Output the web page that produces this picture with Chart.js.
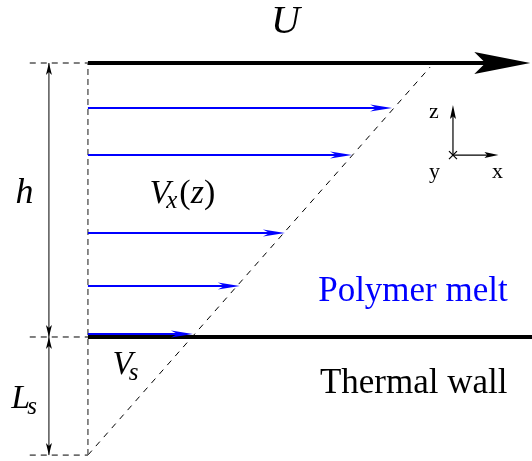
<meta charset="UTF-8">
<style>body{margin:0;background:#fff}</style>

<canvas id="myChart" width="532" height="461"></canvas>

<script src="https://cdn.jsdelivr.net/npm/chart.js@4/dist/chart.umd.min.js"></script>

<script>
    // channel geometry (units of h)
    var channelH = 1.0;
    var slipLength = 0.431;
    var wallTip = 1.293;          // tip of the moving wall arrow U
    var wallEnd = 1.30;           // end of the thermal wall line

    // velocity profile
    var profileZ  = [0.836, 0.664, 0.380, 0.186, 0.011];
    var profileVx = [0.889, 0.772, 0.576, 0.444, 0.307];

    // linear extrapolation of the profile down to -Ls
    var slipLineX = [0, 1.0];
    var slipLineZ = [-0.431, 0.985];

    // dimension markers on the left
    var dimX = -0.114;
    var guideStart = -0.17;

    // coordinate frame icon
    var frameOrigin = [1.067, 0.664];
    var frameZTip = 0.847;
    var frameXTip = 1.20;

    function pts(xs, ys) {
        return xs.map(function (x, i) { return {x: x, y: ys[i]}; });
    }

    var datasets = [];
    // blue velocity arrows (drawn on top)
    profileZ.forEach(function (z, i) {
        datasets.push({data: pts([0, profileVx[i] - 0.02], [z, z]), borderColor: '#0000ff', borderWidth: 2, order: 0});
    });
    // walls
    datasets.push({data: pts([0, wallTip - 0.1], [channelH, channelH]), borderColor: '#000', borderWidth: 4, order: 2});
    datasets.push({data: pts([0, wallEnd], [0, 0]), borderColor: '#000', borderWidth: 4, order: 2});
    // gray dashed reference line at x = 0
    datasets.push({data: pts([0, 0], [-slipLength, channelH]), borderColor: '#666', borderWidth: 1.5, borderDash: [6, 4], order: 3});
    // extrapolation line
    datasets.push({data: pts(slipLineX, slipLineZ), borderColor: '#000', borderWidth: 1, borderDash: [6, 6], order: 3});
    // horizontal guides
    [channelH, 0, -slipLength].forEach(function (z) {
        datasets.push({data: pts([guideStart, 0], [z, z]), borderColor: '#000', borderWidth: 1, borderDash: [6, 5], order: 3});
    });
    // dimension line
    datasets.push({data: pts([dimX, dimX], [-slipLength, channelH]), borderColor: '#000', borderWidth: 1, order: 3});
    // frame icon
    datasets.push({data: pts([frameOrigin[0], frameOrigin[0]], [frameOrigin[1], frameZTip - 0.03]), borderColor: '#000', borderWidth: 1.2, order: 3});
    datasets.push({data: pts([frameOrigin[0], frameXTip - 0.03], [frameOrigin[1], frameOrigin[1]]), borderColor: '#000', borderWidth: 1.2, order: 3});

    function head(ctx, tx, ty, dx, dy, len, hw, notch, color) {
        var px = -dy, py = dx;
        var bx = tx - dx * len, by = ty - dy * len;
        var nx = tx - dx * len * (1 - notch), ny = ty - dy * len * (1 - notch);
        ctx.save();
        ctx.fillStyle = color;
        ctx.beginPath();
        ctx.moveTo(tx, ty);
        ctx.lineTo(bx + px * hw, by + py * hw);
        ctx.lineTo(nx, ny);
        ctx.lineTo(bx - px * hw, by - py * hw);
        ctx.closePath();
        ctx.fill();
        ctx.restore();
    }

    function label(ctx, parts, x, y, sx, sy) {
        // parts: [text, font, dy, colour, extra gap]
        var cx = sx.getPixelForValue(x), cy = sy.getPixelForValue(y);
        ctx.textBaseline = 'alphabetic';
        ctx.textAlign = 'left';
        parts.forEach(function (p) {
            ctx.font = p[1];
            ctx.fillStyle = p[3] || '#000';
            ctx.fillText(p[0], cx, cy + (p[2] || 0));
            cx += ctx.measureText(p[0]).width + (p[4] || 0);
        });
    }

    var decor = {
        id: 'decor',
        afterDatasetsDraw: function (chart) {
            var ctx = chart.ctx, sx = chart.scales.x, sy = chart.scales.y;
            var X = function (v) { return sx.getPixelForValue(v); };
            var Y = function (v) { return sy.getPixelForValue(v); };

            // arrow heads of the profile
            profileZ.forEach(function (z, i) {
                head(ctx, X(profileVx[i]), Y(z), 1, 0, 22, 3.5, 0.3, '#0000ff');
            });
            // U arrow
            head(ctx, X(wallTip), Y(channelH), 1, 0, 56, 11, 0.2, '#000');
            // dimension arrows
            head(ctx, X(dimX), Y(channelH), 0, -1, 12, 3, 0.25, '#000');
            head(ctx, X(dimX), Y(0), 0, 1, 12, 3, 0.25, '#000');
            head(ctx, X(dimX), Y(0), 0, -1, 12, 3, 0.25, '#000');
            head(ctx, X(dimX), Y(-slipLength), 0, 1, 12, 3, 0.25, '#000');
            // frame arrows
            head(ctx, X(frameOrigin[0]), Y(frameZTip), 0, -1, 14, 3, 0.2, '#000');
            head(ctx, X(frameXTip), Y(frameOrigin[1]), 1, 0, 14, 3, 0.2, '#000');
            // y axis cross
            var ox = X(frameOrigin[0]), oy = Y(frameOrigin[1]);
            ctx.save();
            ctx.strokeStyle = '#000';
            ctx.lineWidth = 1.2;
            ctx.beginPath();
            ctx.moveTo(ox - 4, oy - 4); ctx.lineTo(ox + 4, oy + 4);
            ctx.moveTo(ox + 4, oy - 4); ctx.lineTo(ox - 4, oy + 4);
            ctx.stroke();

            var serif = '"Liberation Serif", "DejaVu Serif", serif';
            label(ctx, [['U', 'italic 40px ' + serif]], 0.535, 1.109, sx, sy);
            label(ctx, [['h', 'italic 36px ' + serif]], -0.212, 0.489, sx, sy);
            label(ctx, [['V', 'italic 34px ' + serif, 0, '#000', -4], ['x', 'italic 25px ' + serif, 5, '#000', 2], ['(', '34px ' + serif], ['z', 'italic 34px ' + serif], [')', '34px ' + serif]], 0.18, 0.49, sx, sy);
            label(ctx, [['Polymer melt', '35px ' + serif, 0, '#0000ff']], 0.673, 0.131, sx, sy);
            label(ctx, [['Thermal wall', '35px ' + serif]], 0.678, -0.205, sx, sy);
            label(ctx, [['V', 'italic 33px ' + serif, 0, '#000', -4], ['s', 'italic 25px ' + serif, 6]], 0.072, -0.135, sx, sy);
            label(ctx, [['L', 'italic 34px ' + serif, 0, '#000', -3], ['s', 'italic 25px ' + serif, 6]], -0.224, -0.26, sx, sy);
            label(ctx, [['z', '22px ' + serif]], 0.997, 0.80, sx, sy);
            label(ctx, [['y', '22px ' + serif]], 0.997, 0.58, sx, sy);
            label(ctx, [['x', '22px ' + serif]], 1.181, 0.58, sx, sy);
            ctx.restore();
        }
    };

    var ctx = document.getElementById('myChart').getContext('2d');
    var chart = new Chart(ctx, {
        type: 'scatter',
        data: {datasets: datasets.map(function (d) {
            d.showLine = true;
            d.pointRadius = 0;
            d.fill = false;
            return d;
        })},
        options: {
            responsive: false,
            animation: false,
            devicePixelRatio: 1,
            layout: {padding: 0},
            plugins: {legend: {display: false}, tooltip: {enabled: false}},
            scales: {
                x: {type: 'linear', display: false, min: -0.257, max: 1.298},
                y: {type: 'linear', display: false, min: -0.4526, max: 1.230}
            }
        },
        plugins: [decor]
    });
</script>
